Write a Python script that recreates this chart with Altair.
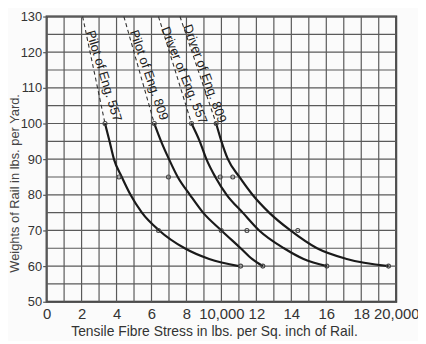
import altair as alt
import pandas as pd

series = ["Pilot of Eng. 557", "Pilot of Eng. 809", "Driver of Eng. 557", "Driver of Eng. 809"]

# fitted curves: weight of rail (lbs/yd) vs tensile fibre stress (thousand lbs/sq.in)
curve_weights = [100, 95, 90, 85, 80, 75, 70, 65, 62, 60]
pilot557_curve = [3.34, 3.6, 3.85, 4.3, 4.8, 5.45, 6.44, 7.9, 9.3, 11.0]
pilot809_curve = [6.16, 6.55, 7.0, 7.5, 8.2, 8.95, 10.0, 11.1, 11.75, 12.37]
driver557_curve = [8.29, 8.76, 9.14, 9.65, 10.3, 11.22, 12.16, 13.58, 14.7, 16.03]
driver809_curve = [9.7, 10.0, 10.37, 11.03, 11.78, 12.73, 13.95, 15.47, 17.17, 19.56]

# observed points
point_weights = [100, 85, 70, 60]
pilot557_points = [3.34, 4.14, 6.4, 11.1]
pilot809_points = [6.16, 6.97, 9.99, 12.37]
driver557_points = [8.29, 9.93, 11.46, 16.03]
driver809_points = [9.7, 10.65, 14.37, 19.56]

# dashed extensions (top of chart down to the 100 lb point)
dash_weights = [130, 100]
dash_top_stress = [2.06, 4.42, 6.40, 7.63]
dash_bottom_stress = [3.34, 6.16, 8.29, 9.7]

# label anchors
label_stress = [3.27, 5.85, 7.86, 9.05]
label_weight = [113.3, 113.6, 113.5, 114.0]
label_angle = [73, 71, 68, 70]

x_ticks = list(range(0, 21))
y_ticks = list(range(50, 131, 5))

curves = [pilot557_curve, pilot809_curve, driver557_curve, driver809_curve]
points = [pilot557_points, pilot809_points, driver557_points, driver809_points]

curve_rows, point_rows, dash_rows, label_rows = [], [], [], []
for i, s in enumerate(series):
    for w, v in zip(curve_weights, curves[i]):
        curve_rows.append({"series": s, "stress": v, "weight": w})
    for w, v in zip(point_weights, points[i]):
        point_rows.append({"series": s, "stress": v, "weight": w})
    dash_rows.append({"series": s, "stress": dash_top_stress[i], "weight": dash_weights[0]})
    dash_rows.append({"series": s, "stress": dash_bottom_stress[i], "weight": dash_weights[1]})
    label_rows.append({"series": s, "stress": label_stress[i], "weight": label_weight[i],
                       "angle": label_angle[i]})

curve_df = pd.DataFrame(curve_rows)
point_df = pd.DataFrame(point_rows)
dash_df = pd.DataFrame(dash_rows)
label_df = pd.DataFrame(label_rows)
xgrid_df = pd.DataFrame({"stress": x_ticks})
ygrid_df = pd.DataFrame({"weight": y_ticks})

FONT = "Liberation Sans Narrow, Liberation Sans, sans-serif"
FONT2 = "Liberation Sans, sans-serif"

xscale = alt.Scale(domain=[0, 20], nice=False)
yscale = alt.Scale(domain=[50, 130], nice=False, zero=False)

x_axis = alt.Axis(
    values=x_ticks, tickCount=20,
    labelExpr="datum.value == 10 ? '10,000' : datum.value == 20 ? '20,000' : (datum.value % 2 == 0 ? datum.label : '')",
    grid=False, ticks=False, domain=False, labelFlush=False,
    labelFont=FONT, labelFontSize=15, labelColor="#333", labelPadding=5,
    labelOverlap=False,
    title="Tensile Fibre Stress in lbs. per Sq. inch of Rail.",
    titleFont=FONT2, titleFontSize=14, titleFontWeight="normal", titleColor="#333",
    titleX=169, titleY=30, titleBaseline="middle", titleAnchor="middle",
)
y_axis = alt.Axis(
    values=y_ticks, tickCount=16,
    labelExpr="datum.value % 10 == 0 ? datum.label : ''",
    grid=False, ticks=True, tickSize=4, tickColor="#555", tickWidth=1.2, domain=False,
    labelFont=FONT, labelFontSize=13, labelColor="#333", labelPadding=1,
    labelOverlap=False,
    title="Weights of Rail in lbs. per Yard.",
    titleFont=FONT2, titleFontSize=13, titleFontWeight="normal", titleColor="#444",
    titleX=-32, titleY=168, titleBaseline="middle", titleAngle=-90,
)

x = alt.X("stress:Q", scale=xscale, axis=x_axis)
y = alt.Y("weight:Q", scale=yscale, axis=y_axis)

xgrid = alt.Chart(xgrid_df).mark_rule(color="#5a5a5a", strokeWidth=1.2).encode(x=x)
ygrid = alt.Chart(ygrid_df).mark_rule(color="#5a5a5a", strokeWidth=1.2).encode(y=y)

curve_layer = alt.Chart(curve_df).mark_line(
    color="#1a1a1a", strokeWidth=2.2, interpolate="monotone"
).encode(x=x, y=y, detail="series:N")

dash_layer = alt.Chart(dash_df).mark_line(
    color="#333", strokeWidth=1.1, strokeDash=[4, 3]
).encode(x=x, y=y, detail="series:N")

point_layer = alt.Chart(point_df).mark_point(
    shape="circle", size=16, filled=False, color="#444", strokeWidth=1.1, opacity=1
).encode(x=x, y=y)

label_layer = alt.Chart(label_df).mark_text(
    align="center", baseline="middle", font=FONT2, fontSize=13,
    color="#222"
).encode(x=x, y=y, text="series:N", angle=alt.Angle("angle:Q", scale=None))

chart = alt.layer(xgrid, ygrid, curve_layer, dash_layer, point_layer, label_layer).properties(
    width=353, height=288,
    padding={"left": 39, "top": 7, "right": 22, "bottom": 38},
    autosize=alt.AutoSizeParams(type="none"),
    background="#fbfbfb",
).configure_view(
    stroke="#222", strokeWidth=2
)

chart.save("out.html", embed_options={"renderer": "svg", "actions": False})
